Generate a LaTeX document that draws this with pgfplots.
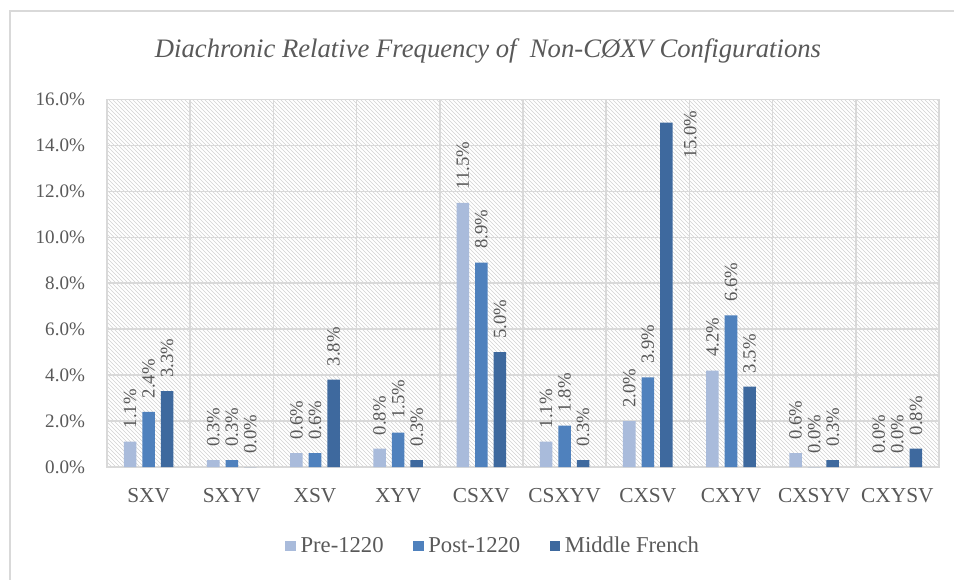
\documentclass[border=0pt]{standalone}
\usepackage{pgfplots}
\pgfplotsset{compat=1.18}
\usepackage{fontspec}
\setmainfont{Liberation Serif}
\usetikzlibrary{patterns}
\definecolor{cPre}{RGB}{169,187,219}
\definecolor{cPost}{RGB}{79,129,189}
\definecolor{cMid}{RGB}{62,105,158}
\definecolor{gridc}{RGB}{217,217,217}
\definecolor{txt}{RGB}{89,89,89}
\begin{document}
\begin{tikzpicture}
\useasboundingbox (-80.25pt,-84pt) rectangle (635.25pt,350.25pt);
\draw[gridc, line width=1.5pt] (-72.75pt,-90pt) -- (-72.75pt,342pt) -- (640pt,342pt);
\begin{axis}[
  at={(0pt,0pt)}, anchor=south west,
  scale only axis, width=624pt, height=275.6pt,
  xmin=-0.5, xmax=9.5, ymin=0, ymax=16,
  xtick={0,...,9},
  xticklabels={SXV,SXYV,XSV,XYV,CSXV,CSXYV,CXSV,CXYV,CXSYV,CXYSV},
  minor xtick={-0.5,0.5,...,9.5},
  ytick={0,2,...,16},
  ymajorgrids, xminorgrids,
  grid style={gridc, line width=1.2pt},
  minor grid style={gridc, line width=1.2pt},
  major tick length=0pt, minor tick length=0pt,
  axis line style={gridc, line width=1.2pt},
  axis background/.style={pattern=north west lines, pattern color=gray!35},
  /pgf/number format/assume math mode=true,
  yticklabel={\pgfmathprintnumber[fixed,fixed zerofill,precision=1]{\tick}\%},
  yticklabel style={font=\fontsize{14.3}{16}\selectfont, text=txt, xshift=-13pt},
  xticklabel style={font=\fontsize{16}{18}\selectfont, text=txt, yshift=-12.5pt},
  ybar=4.5pt, bar width=9.4pt,
  nodes near coords={\pgfmathprintnumber[fixed,fixed zerofill,precision=1]{\pgfplotspointmeta}\%},
  nodes near coords style={rotate=90, anchor=west, font=\fontsize{14}{16}\selectfont, text=txt, inner xsep=10pt, inner ysep=1pt},
  legend style={at={(0.4645,-0.215)}, anchor=center, legend columns=3, draw=none, fill=none,
    font=\fontsize{17}{19}\selectfont, text=txt,
    /tikz/every even column/.style={column sep=20pt},
    /tikz/every odd column/.style={column sep=1.5pt}},
  legend image code/.code={\fill[#1] (0pt,-4pt) rectangle (8pt,4pt);},
]
\addplot[fill=cPre, draw=none] coordinates {(0,1.1) (1,0.3) (2,0.6) (3,0.8) (4,11.5) (5,1.1) (6,2.0) (7,4.2) (8,0.6) (9,0.0)};
\addplot[fill=cPost, draw=none] coordinates {(0,2.4) (1,0.3) (2,0.6) (3,1.5) (4,8.9) (5,1.8) (6,3.9) (7,6.6) (8,0.0) (9,0.0)};
\addplot[fill=cMid, draw=none, coordinate style/.condition={y>14}{xshift=18pt, yshift=-37.5pt}] coordinates {(0,3.3) (1,0.0) (2,3.8) (3,0.3) (4,5.0) (5,0.3) (6,15.0) (7,3.5) (8,0.3) (9,0.8)};
\legend{Pre-1220,Post-1220,Middle French}
\end{axis}
\node[anchor=base, text=txt, font=\fontsize{20}{24}\selectfont\itshape] at (285.75pt,306.75pt) {Diachronic Relative Frequency of\ \ Non-CØXV Configurations};
\end{tikzpicture}
\end{document}
